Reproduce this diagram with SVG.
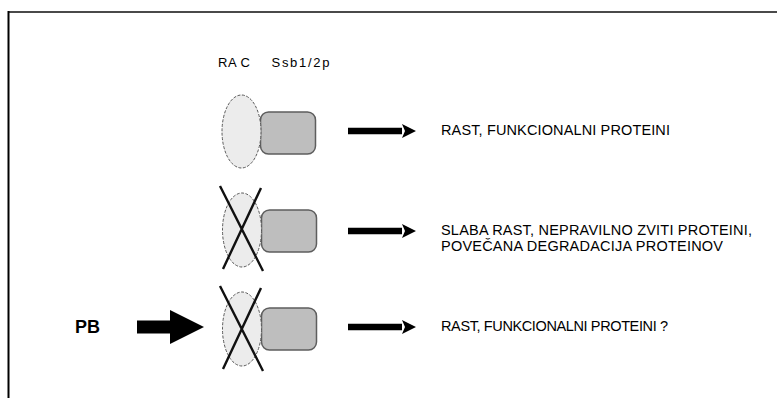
<svg xmlns="http://www.w3.org/2000/svg" width="777" height="398" viewBox="0 0 777 398">
  <defs>
    <style>
      .lbl { font-family: "Liberation Sans", Arial, sans-serif; fill: #000; }
      .rac { fill: #ececec; stroke: #5a5a5a; stroke-width: 1; stroke-dasharray: 3 1.5; }
      .ssb { fill: #bebebe; stroke: #5e5e5e; stroke-width: 1.5; }
      .cross { stroke: #111; stroke-width: 2.4; fill: none; }
      .shaft { stroke: #000; stroke-width: 6.5; }
    </style>
    <marker id="head" viewBox="0 0 14 14" refX="0" refY="7" markerUnits="userSpaceOnUse" markerWidth="14" markerHeight="14" orient="auto">
      <path d="M0,0 L14,7 L0,14 L3,7 Z" fill="#000"/>
    </marker>
  </defs>

  <rect width="777" height="398" fill="#fff"/>

  <!-- frame -->
  <line x1="8" y1="12" x2="777" y2="12" stroke="#4a4a4a" stroke-width="2"/>
  <line x1="8.5" y1="11" x2="8.5" y2="398" stroke="#000" stroke-width="2"/>

  <!-- column headings -->
  <text class="lbl" x="218" y="66.5" font-size="13" textLength="32" lengthAdjust="spacing">RA C</text>
  <text class="lbl" x="271.5" y="66.5" font-size="13" textLength="58" lengthAdjust="spacing">Ssb1/2p</text>

  <!-- row 1: intact complex -->
  <g id="complex-1">
    <rect class="ssb" x="260.5" y="112" width="55" height="42" rx="8"/>
    <ellipse class="rac" cx="241.5" cy="131.5" rx="19.5" ry="36.5"/>
  </g>

  <!-- row 2: RAC missing -->
  <g id="complex-2">
    <rect class="ssb" x="261.5" y="210" width="55" height="42" rx="8"/>
    <ellipse class="rac" cx="242" cy="230" rx="19.5" ry="37"/>
    <path class="cross" d="M220,186 L263,271 M261,188 L223,269"/>
  </g>

  <!-- row 3: RAC missing, PB added -->
  <g id="complex-3">
    <rect class="ssb" x="261.5" y="308" width="55" height="42" rx="8"/>
    <ellipse class="rac" cx="242" cy="329" rx="19.5" ry="37"/>
    <path class="cross" d="M220,286 L263,371 M261,288 L223,369"/>
  </g>

  <g id="pb">
    <text class="lbl" x="75" y="333" font-size="18" font-weight="bold">PB</text>
  </g>

  <!-- connectors -->
  <g id="connectors">
    <line class="shaft" x1="348" y1="131" x2="402" y2="131" marker-end="url(#head)"/>
    <line class="shaft" x1="348" y1="231" x2="402" y2="231" marker-end="url(#head)"/>
    <line class="shaft" x1="348" y1="327" x2="402" y2="327" marker-end="url(#head)"/>
    <path d="M137,320.5 L170,320.5 L170,310 L204,327 L170,344 L170,333.5 L137,333.5 Z" fill="#000"/>
  </g>

  <!-- outcomes -->
  <g id="outcome-1">
    <text class="lbl" x="441" y="134.5" font-size="14.5" textLength="229" lengthAdjust="spacing">RAST, FUNKCIONALNI PROTEINI</text>
  </g>
  <g id="outcome-2">
    <text class="lbl" x="441" y="235" font-size="14.5" textLength="311" lengthAdjust="spacing">SLABA RAST, NEPRAVILNO ZVITI PROTEINI,</text>
    <text class="lbl" x="441" y="250.5" font-size="14.5" textLength="282" lengthAdjust="spacing">POVEČANA DEGRADACIJA PROTEINOV</text>
  </g>
  <g id="outcome-3">
    <text class="lbl" x="441" y="331" font-size="14.5" textLength="227" lengthAdjust="spacing">RAST, FUNKCIONALNI PROTEINI ?</text>
  </g>
</svg>
